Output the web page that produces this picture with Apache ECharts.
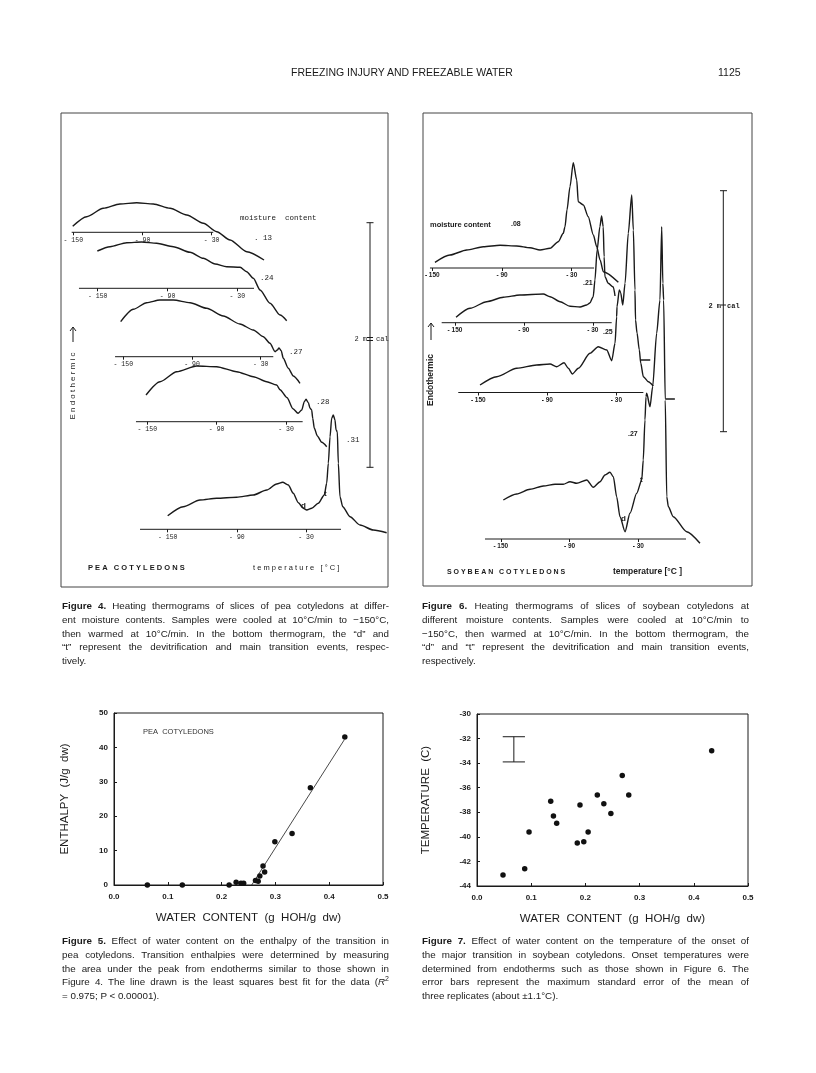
<!DOCTYPE html>
<html>
<head>
<meta charset="utf-8">
<script src="https://cdn.jsdelivr.net/npm/echarts@6/dist/echarts.min.js"></script>
<style>
  body { margin: 0; background: #fff; width: 816px; height: 1073px; position: relative; overflow: hidden;
         font-family: "Liberation Sans", Arial, sans-serif; color: #1a1a1a; }
  #chart { position: absolute; left: 0; top: 0; width: 816px; height: 1073px; }
  .hdr { position: absolute; top: 65px; font-size: 10.5px; line-height: 14px; }
  .cap { position: absolute; width: 327px; font-size: 9.8px; line-height: 13.8px; }
  .cap div { text-align: justify; text-align-last: justify; }
  .cap div.last { text-align-last: left; }
</style>
</head>
<body>
<div id="chart"></div>
<div class="hdr" style="left:0;width:804px;text-align:center">FREEZING INJURY AND FREEZABLE WATER</div>
<div class="hdr" style="left:718px">1125</div>

<div class="cap" style="left:62px;top:599px">
  <div><b>Figure 4.</b> Heating thermograms of slices of pea cotyledons at differ-</div>
  <div>ent moisture contents. Samples were cooled at 10°C/min to −150°C,</div>
  <div>then warmed at 10°C/min. In the bottom thermogram, the “d” and</div>
  <div>“t” represent the devitrification and main transition events, respec-</div>
  <div class="last">tively.</div>
</div>
<div class="cap" style="left:422px;top:599px">
  <div><b>Figure 6.</b> Heating thermograms of slices of soybean cotyledons at</div>
  <div>different moisture contents. Samples were cooled at 10°C/min to</div>
  <div>−150°C, then warmed at 10°C/min. In the bottom thermogram, the</div>
  <div>“d” and “t” represent the devitrification and main transition events,</div>
  <div class="last">respectively.</div>
</div>
<div class="cap" style="left:62px;top:934px">
  <div><b>Figure 5.</b> Effect of water content on the enthalpy of the transition in</div>
  <div>pea cotyledons. Transition enthalpies were determined by measuring</div>
  <div>the area under the peak from endotherms similar to those shown in</div>
  <div>Figure 4. The line drawn is the least squares best fit for the data (<i>R</i><sup style="font-size:7px;line-height:0">2</sup></div>
  <div class="last">= 0.975; P &lt; 0.00001).</div>
</div>
<div class="cap" style="left:422px;top:934px">
  <div><b>Figure 7.</b> Effect of water content on the temperature of the onset of</div>
  <div>the major transition in soybean cotyledons. Onset temperatures were</div>
  <div>determined from endotherms such as those shown in Figure 6. The</div>
  <div>error bars represent the maximum standard error of the mean of</div>
  <div class="last">three replicates (about ±1.1°C).</div>
</div>

<script>
// thermogram curves: [temperature °C, heat flow above the baseline (arb. units)]
const pea13 = [[-150.5,6],[-138.4,15.6],[-124,24],[-109.5,28.3],[-95,29.6],[-80.6,28.3],[-66.1,24],[-51.6,17.3],
  [-37.2,9],[-25.6,0.6],[-14,-7.7],[0.4,-19.4],[15.4,-27.7]];
const pea24 = [[-150.3,37.3],[-139.4,41.6],[-125,45.6],[-112.2,46.3],[-99.3,45],[-85,41.6],[-70.6,36],[-59.2,30],
  [-49.1,24.3],[-39.1,21.6],[-27.6,21],[-21.9,16.6],[-16.2,10],[-10.4,-1.7],[-1.8,-15],[6.8,-26.7],[12.5,-32.4]];
const pea27 = [[-152.3,35],[-141.3,47.4],[-129.6,54],[-118,56.7],[-106.3,56.7],[-91.7,54],[-77.2,48.4],[-62.7,40.7],
  [-48.2,32.7],[-36.5,26.7],[-27.7,20],[-21.9,13.4],[-17.4,5],[-15.5,6.7],[-14,8.7],[-12.1,6],[-10.3,-1.6],
  [-5.9,-11.6],[-1.5,-19.3],[4.3,-26.6]];
const pea28 = [[-151.1,26.7],[-139,40],[-124.6,50],[-107.3,55.7],[-90,55],[-72.7,50],[-58.3,45],[-46.7,40],
  [-38.1,36.7],[-35.2,32],[-29.1,24],[-24,13],[-19.6,8.4],[-16.4,11.7],[-14.2,20],[-12.7,22.4],[-10.7,19],
  [-9.2,13.4],[-7.8,11.7],[-6.9,3.4],[-5.5,-6.6],[-2.9,-14.3],[0.9,-20.6],[5.2,-25]];
const pea31 = [[-150,13.6],[-136.5,22.6],[-122,29.3],[-107.5,31],[-90.2,32],[-75.8,34.3],[-64.1,39.3],[-55.5,45.3],
  [-50.3,47],[-45.4,44.3],[-41.1,36],[-36.7,26.6],[-32.4,21],[-29.4,19.3],[-25.1,21],[-19.4,26],[-14.2,34.3],
  [-12.1,46],[-10.7,66],[-9.2,92.6],[-7.8,111],[-6.4,114.3],[-4.9,109.3],[-4,99.3],[-2.9,97.6],[-2,66],
  [-0.6,32.6],[1.8,22.6],[8.1,12.6],[16.8,4.3],[28.3,-0.7],[39.9,-3.4]];

const soy08 = [[-147.7,5.7],[-134.8,13],[-120.4,18],[-106.1,21.3],[-91.7,22.7],[-77.4,22],[-65.9,20.3],[-57.3,18],
  [-48.7,19.7],[-41.6,26.3],[-37.3,34.7],[-35.8,41.3],[-34.1,58],[-31.5,81.3],[-28.7,105.3],[-25.7,88],
  [-24.4,66.3],[-20,63],[-15.8,51.3],[-11.4,33],[-8.5,21.3],[-5.6,8],[-2.8,-3.7],[10.1,-14.3]];
const soy21 = [[-149.1,5.4],[-136.9,14.4],[-122.4,21],[-107.9,25.4],[-93.4,27.7],[-73.1,28.7],[-67.2,26],[-58.5,21],
  [-49.8,16.4],[-41.1,15.7],[-35.3,17.7],[-32.5,19.7],[-29.6,26],[-28.1,42.7],[-26.2,72.7],[-23.8,96],
  [-22.3,106.7],[-20.9,96],[-20.1,66],[-19.4,46],[-16.5,39.4],[-12.1,35.7],[-10.6,26.7]];
const soy25 = [[-148.5,7.5],[-134,15.8],[-116.6,24.2],[-99.3,27.5],[-87.7,28.5],[-81.9,25.8],[-75.5,29.8],
  [-71.8,24.2],[-68.3,18.5],[-63.1,24.2],[-53,39.2],[-45.8,45.8],[-38.4,42.5],[-34.1,31.8],[-31.2,49.2],
  [-29.8,75.8],[-29.5,85.8],[-27.5,102.5],[-26.3,99.8],[-24.5,87.5],[-22.5,109.2],[-19.7,159.2],[-16.7,197.5],
  [-15.3,162.5],[-13.9,102.5],[-13.4,72.5],[-12.1,59.5],[-10.1,42.5],[-8.9,29.5],[-6.6,15.8],[-2.3,10.8],[2,6.5]];
const soy25Stub = [[-9.3,32.5],[-0.6,32.5]];
const soy27 = [[-147.8,39],[-136.1,45],[-124.5,49.7],[-112.9,53],[-102.7,54.7],[-95.5,54.7],[-89.6,57.3],
  [-83.8,55.7],[-75,59],[-69.3,51.7],[-63.4,57.3],[-59.1,64],[-54.7,66.7],[-51.8,62.3],[-48.9,42.3],[-46,22.3],
  [-41.6,7.3],[-37.3,25.7],[-31.4,45.7],[-27,59],[-25.7,79],[-24.2,119],[-23.3,142.3],[-22.7,145.7],[-19.8,132.3],
  [-17.5,152.3],[-14,205.7],[-11.1,239],[-9.6,312.3],[-8.6,255.7],[-7.9,239],[-6.5,139],[-5.2,42.3],[-3.8,32.3],
  [0.5,22.3],[12.2,7.3],[23.8,-4.3]];
const soy27Stub = [[-5.9,140],[1.9,140]];

const tempTicks = [-150, -90, -30];

// Figure 5: pea enthalpy vs water content
const peaWater    = [0.062, 0.127, 0.214, 0.227, 0.236, 0.241, 0.263, 0.268, 0.271, 0.277, 0.280, 0.299, 0.331, 0.365, 0.429];
const peaEnthalpy = [0, 0, 0, 0.8, 0.5, 0.5, 1.3, 1.1, 2.6, 5.5, 3.8, 12.6, 15.0, 28.3, 43.0];
const peaFitX = [0.256, 0.428];
const peaFitY = [0, 42.2];

// Figure 7: soybean onset temperature vs water content
const soyWater = [0.048, 0.088, 0.096, 0.136, 0.141, 0.147, 0.185, 0.190, 0.197, 0.205, 0.222, 0.234, 0.247, 0.268, 0.280, 0.433];
const soyOnset = [-43.1, -42.6, -39.6, -37.1, -38.3, -38.9, -40.5, -37.4, -40.4, -39.6, -36.6, -37.3, -38.1, -35.0, -36.6, -33.0];
const errBarX = 0.068, errBarLow = -33.9, errBarHigh = -31.85, errCapHalf = 0.0205;

// baseline of each thermogram on the page (tMin/tMax = drawn extent of the temperature axis)
const peaAxes = [
  { y: 232.3, x150: 73.3, ppd: 1.153, tMin: -151.4, tMax: -28.6 },
  { y: 288.3, x150: 97.7, ppd: 1.163, tMin: -166.1, tMax: -15.6 },
  { y: 356.7, x150: 123.3, ppd: 1.145, tMin: -157.2, tMax: -19 },
  { y: 421.7, x150: 147.3, ppd: 1.156, tMin: -159.8, tMax: -15.6 },
  { y: 529.3, x150: 167.7, ppd: 1.153, tMin: -174, tMax: 0.3 }
];
const soyAxes = [
  { y: 268, x150: 432.3, ppd: 1.162, tMin: -152, tMax: -10.8 },
  { y: 322.7, x150: 455, ppd: 1.148, tMin: -161.6, tMax: -13.5 },
  { y: 392.5, x150: 478.3, ppd: 1.151, tMin: -167.4, tMax: -6.6 },
  { y: 539, x150: 500.8, ppd: 1.146, tMin: -163.8, tMax: 11.6 }
];
const T_END = 45; // scale extends past the drawn baseline so the curve tails are kept

const MONO = '"Liberation Mono", "DejaVu Sans Mono", monospace';
const SANS = '"Liberation Sans", Arial, sans-serif';
const INK = '#1a1a1a';

const grids = [], xAxes = [], yAxes = [], series = [];

function addThermo(ax, curves, labelFont, labelWeight) {
  const i = grids.length;
  grids.push({
    left: ax.x150 + (ax.tMin + 150) * ax.ppd, top: ax.y - 100,
    width: (T_END - ax.tMin) * ax.ppd, height: 100, outerBoundsMode: 'none'
  });
  xAxes.push({
    gridIndex: i, type: 'value', min: ax.tMin, max: T_END,
    axisLine: { show: false },
    splitLine: { show: false },
    axisTick: { show: true, customValues: tempTicks, length: 3, lineStyle: { color: INK } },
    axisLabel: {
      customValues: tempTicks, formatter: (v) => '- ' + Math.abs(v), margin: 4,
      fontFamily: labelFont, fontSize: 6.5, fontWeight: labelWeight, color: INK
    }
  });
  yAxes.push({ gridIndex: i, type: 'value', min: 0, max: 100, show: false });
  // temperature baseline
  series.push({
    type: 'line', xAxisIndex: i, yAxisIndex: i, data: [[ax.tMin, 0], [ax.tMax, 0]], symbol: 'none',
    silent: true, clip: false, lineStyle: { color: INK, width: 1 }
  });
  curves.forEach((c) => {
    series.push({
      type: 'line', xAxisIndex: i, yAxisIndex: i, data: c, symbol: 'none',
      smooth: 0.25, smoothMonotone: 'x', clip: false, silent: true,
      lineStyle: { color: INK, width: 1.4 }
    });
  });
}

addThermo(peaAxes[0], [pea13], MONO, 'normal');
addThermo(peaAxes[1], [pea24], MONO, 'normal');
addThermo(peaAxes[2], [pea27], MONO, 'normal');
addThermo(peaAxes[3], [pea28], MONO, 'normal');
addThermo(peaAxes[4], [pea31], MONO, 'normal');
addThermo(soyAxes[0], [soy08], SANS, 'bold');
addThermo(soyAxes[1], [soy21], SANS, 'bold');
addThermo(soyAxes[2], [soy25, soy25Stub], SANS, 'bold');
addThermo(soyAxes[3], [soy27, soy27Stub], SANS, 'bold');

// scatter panels
function addScatterPanel(box, xName, yName, yMin, yMax, yStep, yGap) {
  const i = grids.length;
  grids.push(Object.assign({ show: true, borderColor: INK, borderWidth: 1, outerBoundsMode: 'none' }, box));
  xAxes.push({
    gridIndex: i, type: 'value', min: 0, max: 0.5, interval: 0.1,
    name: xName, nameLocation: 'middle', nameGap: 27,
    nameTextStyle: { fontFamily: SANS, fontSize: 11.5, color: INK },
    axisLine: { onZero: false, lineStyle: { color: INK } },
    axisTick: { inside: true, length: 3, lineStyle: { color: INK } },
    splitLine: { show: false },
    axisLabel: { formatter: (v) => v.toFixed(1), fontFamily: SANS, fontSize: 8, fontWeight: 'bold', color: INK, margin: 8 }
  });
  yAxes.push({
    gridIndex: i, type: 'value', min: yMin, max: yMax, interval: yStep,
    name: yName, nameLocation: 'middle', nameGap: yGap, nameRotate: 90,
    nameTextStyle: { fontFamily: SANS, fontSize: 11.5, color: INK },
    axisLine: { onZero: false, lineStyle: { color: INK } },
    axisTick: { inside: true, length: 3, lineStyle: { color: INK } },
    splitLine: { show: false },
    axisLabel: { fontFamily: SANS, fontSize: 8, fontWeight: 'bold', color: INK, margin: 6 }
  });
  return i;
}

const g5 = addScatterPanel({ left: 114, top: 713, width: 269, height: 172 },
  'WATER  CONTENT  (g  HOH/g  dw)', 'ENTHALPY  (J/g  dw)', 0, 50, 10, 43);
series.push({
  type: 'line', xAxisIndex: g5, yAxisIndex: g5, symbol: 'none', silent: true,
  data: peaFitX.map((x, k) => [x, peaFitY[k]]), lineStyle: { color: INK, width: 0.8 }
});
series.push({
  type: 'scatter', xAxisIndex: g5, yAxisIndex: g5, symbolSize: 5.5, silent: true,
  data: peaWater.map((x, k) => [x, peaEnthalpy[k]]), itemStyle: { color: '#111', opacity: 1 }
});

const g7 = addScatterPanel({ left: 477, top: 714, width: 271, height: 172 },
  'WATER  CONTENT  (g  HOH/g  dw)', 'TEMPERATURE  (C)', -44, -30, 2, 45);
series.push({
  type: 'scatter', xAxisIndex: g7, yAxisIndex: g7, symbolSize: 5.5, silent: true,
  data: soyWater.map((x, k) => [x, soyOnset[k]]), itemStyle: { color: '#111', opacity: 1 }
});
series.push({
  type: 'custom', xAxisIndex: g7, yAxisIndex: g7, silent: true,
  data: [[errBarX, errBarLow, errBarHigh, errCapHalf]],
  renderItem: (params, api) => {
    const x = api.value(0), lo = api.value(1), hi = api.value(2), h = api.value(3);
    const pLo = api.coord([x, lo]), pHi = api.coord([x, hi]);
    const l = api.coord([x - h, lo])[0], r = api.coord([x + h, lo])[0];
    const st = { stroke: INK, lineWidth: 1 };
    return {
      type: 'group', children: [
        { type: 'line', shape: { x1: pLo[0], y1: pLo[1], x2: pHi[0], y2: pHi[1] }, style: st },
        { type: 'line', shape: { x1: l, y1: pLo[1], x2: r, y2: pLo[1] }, style: st },
        { type: 'line', shape: { x1: l, y1: pHi[1], x2: r, y2: pHi[1] }, style: st }
      ]
    };
  }
});

// annotations
function txt(x, y, text, font, extra) {
  return Object.assign({
    type: 'text', x: x, y: y, silent: true,
    style: { text: text, font: font, fill: INK, align: 'left', verticalAlign: 'middle' }
  }, extra || {});
}
function seg(x1, y1, x2, y2, w) {
  return { type: 'line', silent: true, shape: { x1, y1, x2, y2 }, style: { stroke: INK, lineWidth: w || 1 } };
}
function box(x, y, w, h) {
  return { type: 'rect', silent: true, shape: { x, y, width: w, height: h }, style: { fill: 'none', stroke: '#444', lineWidth: 1 } };
}
function arrowUp(x, y1, y2) {
  return [seg(x, y1, x, y2, 1),
    { type: 'polyline', silent: true, shape: { points: [[x - 3, y2 + 4], [x, y2], [x + 3, y2 + 4]] },
      style: { stroke: INK, lineWidth: 1, fill: 'none' } }];
}

const m8 = '7.5px ' + MONO;
const graphic = [
  box(61, 113, 327, 474),
  box(423, 113, 329, 473),
  // figure 4
  txt(240, 218, 'moisture  content', m8),
  txt(254, 238, '. 13', m8),
  txt(260, 278, '.24', m8),
  txt(289, 352, '.27', m8),
  txt(316, 402, '.28', m8),
  txt(346, 440, '.31', m8),
  txt(301, 506, 'd', 'bold 8px ' + SANS),
  txt(324, 494, 't', 'bold 8px ' + SANS),
  txt(88, 568, 'P E A   C O T Y L E D O N S', 'bold 7.5px ' + SANS),
  txt(253, 568, 't e m p e r a t u r e   [ ° C ]', '7.5px ' + SANS),
  txt(367, 339, '2 m', '7px ' + MONO, { style: { text: '2 m', font: '7px ' + MONO, fill: INK, align: 'right', verticalAlign: 'middle' } }),
  txt(376, 339, 'cal', '7px ' + MONO),
  seg(370, 222.7, 370, 467.3), seg(366.5, 222.7, 373.5, 222.7), seg(366.5, 467.3, 373.5, 467.3),
  seg(367, 337.5, 373, 337.5), seg(367, 340.5, 373, 340.5),
  txt(73, 386, 'E n d o t h e r m i c', '8px ' + SANS,
    { rotation: Math.PI / 2, style: { text: 'E n d o t h e r m i c', font: '8px ' + SANS, fill: INK, align: 'center', verticalAlign: 'middle' } }),
  ...arrowUp(73, 342, 327),
  // figure 6
  txt(430, 225, 'moisture content', 'bold 7.5px ' + SANS),
  txt(511, 224, '.08', 'bold 7px ' + SANS),
  txt(583, 283, '.21', 'bold 7px ' + SANS),
  txt(603, 332, '.25', 'bold 7px ' + SANS),
  txt(628, 434, '.27', 'bold 7px ' + SANS),
  txt(621, 519, 'd', 'bold 8px ' + SANS),
  txt(640, 480, 't', 'bold 8px ' + SANS),
  txt(447, 572, 'S O Y B E A N   C O T Y L E D O N S', 'bold 7px ' + SANS),
  txt(613, 572, 'temperature [°C ]', 'bold 8.5px ' + SANS),
  txt(721, 306, '2 m', '7px ' + MONO, { style: { text: '2 m', font: 'bold 7px ' + MONO, fill: INK, align: 'right', verticalAlign: 'middle' } }),
  txt(727, 306, 'cal', 'bold 7px ' + MONO),
  seg(723.3, 190.7, 723.3, 431.7), seg(720, 190.7, 727, 190.7), seg(720, 431.7, 727, 431.7),
  seg(721, 305, 726, 305),
  txt(431, 380, 'Endothermic', 'bold 8.5px ' + SANS,
    { rotation: Math.PI / 2, style: { text: 'Endothermic', font: 'bold 8.5px ' + SANS, fill: INK, align: 'center', verticalAlign: 'middle' } }),
  ...arrowUp(431, 340, 323),
  // figure 5 inset label
  txt(143, 732, 'PEA  COTYLEDONS', '7.5px ' + SANS, { style: { text: 'PEA  COTYLEDONS', font: '7.5px ' + SANS, fill: '#333', align: 'left', verticalAlign: 'middle' } })
];

const chart = echarts.init(document.getElementById('chart'), null, { renderer: 'canvas' });
chart.setOption({
  animation: false,
  backgroundColor: 'transparent',
  grid: grids,
  xAxis: xAxes,
  yAxis: yAxes,
  series: series,
  graphic: graphic
});
</script>
</body>
</html>
